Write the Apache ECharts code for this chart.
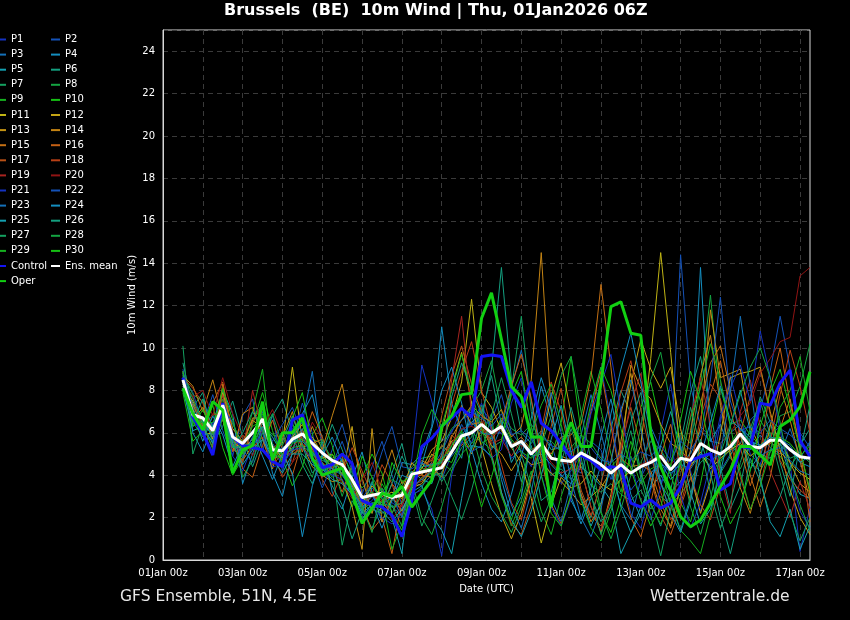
<!DOCTYPE html>
<html><head><meta charset="utf-8">
<script src="https://cdn.jsdelivr.net/npm/echarts@6/dist/echarts.min.js"></script>
<style>html,body{margin:0;padding:0;background:#000;}#c{width:850px;height:620px;}</style>
</head><body><div id="c"></div>
<script>
// 6-hourly values from 01Jan 12z to 17Jan 06z (64 points), m/s
const P1 = [8.2,7.0,6.5,6.0,7.8,5.5,4.9,5.8, 6.8,5.0,4.6,6.2,6.5,5.0,4.4,4.0, 4.3,3.6,2.5,2.8,3.4,2.7,2.4,4.8, 9.2,7.5,5.6,6.0,7.2,6.3,7.4,6.1, 6.0,4.8,5.2,4.4,5.9,4.1,3.6,4.2, 5.0,7.2,9.1,6.6,4.0,2.2,1.5,3.3, 6.1,8.3,5.4,4.2,2.3,3.9,6.5,8.7, 6.8,5.0,4.5,5.9,6.3,4.6,0.4,2.5];
const P2 = [8.6,7.9,6.4,7.8,6.1,4.9,6.8,7.6, 5.1,6.9,4.2,5.6,7.4,6.0,3.9,5.2, 6.4,4.7,3.1,4.4,5.6,4.0,2.6,3.9, 4.2,4.6,3.8,5.0,6.4,5.5,7.1,6.6, 7.8,6.0,5.4,5.8,4.6,5.5,3.9,4.4, 4.1,5.6,5.2,3.8,4.7,3.3,3.9,4.8, 3.6,4.9,14.4,8.2,6.3,5.8,4.2,5.0, 5.5,6.6,7.1,8.9,11.5,9.0,6.0,5.3];
const P3 = [8.0,7.2,6.0,6.5,6.8,6.0,5.0,5.6, 7.0,5.5,4.8,5.9,6.5,8.9,5.2,4.6, 4.0,3.5,2.2,3.4,3.0,2.5,2.1,3.7, 3.5,4.0,4.4,4.9,5.5,6.8,5.6,5.2, 6.3,8.1,9.9,7.5,5.2,2.9,1.8,3.6, 5.9,7.8,6.0,4.1,2.6,1.9,3.8,6.3, 5.2,4.0,4.6,5.0,6.1,5.6,5.5,6.0, 6.4,5.2,5.9,5.3,5.0,6.2,4.8,5.6];
const P4 = [8.9,6.0,5.1,6.4,8.0,6.9,3.6,5.0, 6.3,4.1,3.0,5.1,6.9,7.8,5.6,3.2, 2.4,3.9,5.1,3.2,1.8,2.9,4.6,4.5, 5.0,6.3,11.0,7.4,6.1,6.5,6.9,6.4, 3.8,2.1,3.0,5.7,8.2,6.6,4.9,2.8, 1.9,3.4,5.8,7.6,5.2,3.1,2.0,4.1, 4.6,3.8,4.3,5.1,13.8,5.6,6.4,5.1, 6.2,5.8,4.9,6.4,5.7,5.4,4.6,4.4];
const P5 = [8.4,7.4,6.2,6.3,7.1,5.7,5.0,6.1, 6.4,5.8,5.0,5.2,6.2,4.6,4.9,4.1, 4.8,3.2,2.6,3.6,2.9,2.0,0.3,4.2, 3.8,3.6,5.0,5.6,4.8,7.5,6.0,5.7, 6.6,4.6,5.5,4.9,5.0,4.5,4.0,3.6, 4.4,4.0,3.5,2.8,0.3,1.3,2.5,3.4, 4.0,3.2,3.7,4.5,5.0,4.4,4.7,5.2, 5.9,4.3,5.0,4.8,5.5,4.0,3.1,2.9];
const P6 = [9.3,7.2,7.9,5.5,6.3,7.5,5.8,4.4, 5.7,6.8,7.6,6.0,4.5,3.6,5.0,6.4, 5.2,3.9,2.3,1.5,2.6,4.1,5.5,3.5, 4.6,4.0,4.1,5.4,6.0,5.2,6.6,9.0, 13.8,8.5,6.0,5.5,6.1,5.2,5.3,4.8, 3.1,2.0,3.6,6.2,8.0,6.9,4.1,2.7, 1.6,3.3,5.5,7.9,9.6,7.0,4.4,2.4, 3.5,5.8,7.7,6.5,4.6,3.0,5.4,6.2];
const P7 = [10.1,5.0,6.4,5.9,8.0,5.4,4.6,6.6, 7.4,4.6,4.4,5.5,6.8,5.1,4.2,4.4, 0.7,2.8,2.0,2.4,2.2,2.6,1.6,3.0, 3.4,4.5,3.7,4.4,5.3,5.8,7.3,5.3, 5.6,8.0,11.5,7.0,4.8,4.0,4.3,3.8, 4.6,3.5,3.2,3.6,3.1,2.8,3.3,2.4, 3.0,2.6,3.1,3.8,4.6,5.0,4.1,4.9, 6.0,4.6,4.2,5.1,5.5,4.8,5.0,4.6];
const P8 = [8.8,7.8,7.5,5.4,7.6,6.4,5.5,5.2, 6.5,5.9,5.8,5.0,5.2,5.7,5.5,4.8, 5.0,4.1,3.4,3.9,3.2,3.8,3.5,4.4, 4.8,4.9,5.3,6.2,6.6,7.2,8.0,9.4, 7.0,6.2,5.9,6.4,5.7,5.6,5.1,5.3, 5.9,5.5,4.8,4.4,4.9,4.0,4.6,5.6, 5.2,4.4,6.0,5.5,8.3,12.5,7.4,4.8, 4.3,5.4,6.6,5.8,6.8,7.0,8.2,10.2];
const P9 = [8.0,6.5,5.8,6.8,7.2,5.9,5.3,7.0, 9.0,4.8,4.9,6.4,5.9,5.3,4.6,3.9, 4.4,3.3,2.8,2.2,3.6,2.8,3.7,3.3, 3.9,4.1,4.6,4.2,5.0,5.5,5.9,6.9, 3.1,1.6,2.8,4.2,2.3,1.2,3.0,4.4, 6.8,8.9,7.1,5.0,3.2,4.9,3.6,4.3, 4.5,2.6,1.4,0.9,0.3,2.1,4.6,5.5, 6.2,5.5,4.4,5.2,4.9,4.2,5.6,5.1];
const P10 = [7.9,5.6,6.1,7.3,5.3,4.0,4.8,6.4, 7.9,6.1,4.8,3.5,4.4,5.9,6.7,5.4, 3.7,2.5,3.9,5.0,4.1,2.2,1.4,3.4, 4.4,3.8,4.8,4.6,5.7,6.1,5.5,5.8, 6.7,5.7,5.1,4.8,5.3,4.8,6.5,9.6, 6.0,3.8,2.2,1.3,2.9,5.1,7.2,8.4, 6.3,4.0,2.7,1.8,3.6,6.0,8.1,6.4, 6.6,5.9,5.4,6.0,5.8,5.5,4.9,5.4];
const P11 = [8.3,7.1,5.9,6.0,7.0,5.6,5.2,5.7, 6.6,5.1,5.5,9.1,5.6,5.8,5.0,4.3, 4.7,3.6,2.7,3.5,3.0,3.2,2.9,4.0, 4.3,5.2,5.6,6.7,8.4,12.3,7.9,7.2, 6.1,5.3,4.6,2.9,0.8,2.6,3.9,3.4, 3.6,4.2,3.6,3.3,3.8,4.2,5.4,9.5, 14.5,9.8,4.9,4.4,5.1,4.3,4.8,5.2, 5.5,4.9,5.3,5.5,5.8,4.6,4.1,3.8];
const P12 = [8.5,6.6,7.2,5.7,7.9,6.2,5.6,6.6, 6.2,5.4,4.8,5.8,6.4,5.2,4.8,5.0, 4.0,6.3,3.0,2.4,2.8,3.0,2.3,3.4, 3.6,4.3,6.0,8.1,9.8,7.4,5.3,3.6, 2.1,1.0,2.2,3.9,5.4,7.7,9.3,6.9, 4.3,2.5,1.3,3.1,5.6,8.3,10.4,9.0, 8.1,9.1,6.2,4.0,2.2,3.7,5.9,8.6, 8.8,8.9,9.1,7.0,5.2,3.3,2.0,1.2];
const P13 = [8.1,7.5,6.4,6.2,6.6,5.3,4.7,5.4, 7.2,4.9,5.9,5.1,5.5,4.4,4.0,3.7, 3.8,2.5,0.5,6.2,1.8,2.9,3.2,4.6, 4.0,5.0,4.6,5.6,5.9,5.0,6.2,5.4, 5.0,4.2,5.0,4.5,4.6,4.1,3.7,3.2, 2.6,3.0,3.4,4.2,4.6,9.2,8.1,7.6, 6.4,5.5,5.2,4.6,6.3,11.8,8.6,8.8, 9.0,6.3,5.3,5.6,5.1,4.6,3.6,3.2];
const P14 = [8.7,8.2,7.0,8.5,6.6,5.1,6.9,7.2, 5.7,4.3,5.8,7.0,5.1,6.3,5.2,6.8, 8.3,5.6,3.9,2.2,3.8,5.2,3.6,4.1, 4.7,4.4,3.9,5.8,6.6,7.3,6.8,6.5, 7.1,5.8,6.3,8.5,14.5,7.0,4.9,4.7, 3.1,1.8,2.6,4.7,6.9,8.8,6.2,3.9, 2.4,1.6,3.5,6.1,8.7,10.6,7.3,5.0, 3.4,2.2,4.1,6.3,8.2,6.6,4.7,2.8];
const P15 = [8.2,7.3,6.3,5.3,8.3,5.8,5.4,6.7, 6.7,5.3,4.7,5.7,6.1,5.5,5.7,4.5, 4.5,3.5,2.9,3.2,2.4,3.6,3.0,3.7, 4.5,4.7,5.4,5.0,7.3,6.4,6.5,5.9, 6.4,5.4,5.8,5.2,5.5,5.0,5.8,5.9, 6.4,8.6,13.0,9.1,4.8,4.4,4.5,4.2, 2.8,1.5,2.9,5.2,7.4,9.3,10.1,8.0, 5.9,4.0,2.5,3.9,6.2,7.6,5.3,3.1];
const P16 = [8.9,7.0,5.9,7.4,8.4,6.0,4.3,3.9, 5.4,6.6,5.2,4.0,5.6,7.0,5.8,4.4, 3.2,4.5,2.6,1.4,2.0,0.3,2.8,3.9, 4.0,3.9,4.5,5.9,5.4,6.0,6.3,5.6, 6.5,8.2,9.7,7.6,4.8,2.6,1.7,3.0, 4.7,7.0,8.9,6.3,3.8,2.0,1.1,2.7, 4.9,6.4,4.4,2.8,5.5,7.8,9.4,7.1, 5.3,3.5,5.0,8.1,10.0,7.4,5.3,1.8];
const P17 = [8.5,7.0,6.2,6.1,7.0,5.1,5.9,5.3, 5.8,4.5,5.0,5.0,5.3,4.8,3.9,4.4, 4.9,3.4,2.6,3.0,2.7,2.2,3.1,3.6, 3.7,4.6,6.8,8.7,10.1,8.3,7.0,5.0, 3.2,1.7,1.2,2.6,4.4,6.3,8.1,5.5, 3.3,2.1,1.6,2.8,5.3,7.2,5.4,3.8, 2.1,1.2,2.5,3.9,2.6,1.9,3.5,4.3, 6.0,7.7,9.0,6.9,4.7,3.8,3.3,2.9];
const P18 = [8.6,8.1,7.4,6.0,7.8,5.4,4.6,6.5, 7.3,5.1,3.9,4.6,6.0,5.3,3.8,3.0, 4.1,5.3,4.2,3.1,4.5,3.6,2.1,3.3, 3.9,4.2,4.9,7.3,8.9,10.3,8.0,6.2, 4.5,2.7,1.9,3.8,6.1,8.4,7.0,4.8, 3.0,2.1,3.6,5.5,7.9,9.4,7.1,5.0, 3.2,1.9,2.6,4.4,6.7,8.3,7.6,5.5, 3.9,2.4,3.5,5.6,7.8,9.9,8.2,6.0];
const P19 = [8.3,7.7,6.1,6.9,6.8,5.5,5.0,8.0, 6.1,5.2,5.8,5.3,5.9,5.4,4.6,4.2, 4.4,3.7,2.7,3.1,2.8,3.0,2.5,3.8, 4.1,4.8,4.3,8.5,11.5,6.9,6.6,5.5, 5.7,4.9,5.6,5.0,5.3,4.6,4.1,4.3, 4.3,2.5,1.4,2.9,5.2,7.4,8.8,6.1, 3.6,2.3,4.5,6.8,8.6,6.4,4.0,2.2, 7.0,8.5,6.3,4.2,3.1,2.0,3.7,2.4];
const P20 = [8.4,7.7,8.0,6.8,8.6,6.9,5.8,4.9, 6.2,7.1,5.9,4.6,5.2,6.5,5.7,4.4, 3.6,2.9,3.8,4.6,3.3,1.9,2.6,3.6, 4.2,4.4,4.7,5.5,6.2,6.3,6.1,5.8, 6.2,5.5,5.4,5.1,5.4,4.8,4.6,4.5, 5.0,4.6,4.4,4.2,4.6,4.1,4.5,4.7, 5.0,4.5,5.0,4.8,5.6,5.2,5.5,6.0, 6.8,7.4,8.8,9.5,10.3,10.5,13.4,13.8];
const P21 = [8.0,6.7,6.0,6.4,7.2,4.9,4.2,5.4, 6.0,4.4,4.5,5.2,5.3,4.7,4.3,4.0, 3.8,3.0,2.1,2.5,2.0,1.7,2.2,3.1, 3.3,2.4,0.2,4.0,5.6,5.1,5.4,4.8, 5.2,7.4,8.6,6.3,4.0,2.5,1.6,2.9, 4.8,6.9,8.3,9.7,7.0,4.6,2.8,1.9, 3.4,5.6,3.1,1.5,2.7,4.6,6.8,8.1, 9.2,7.5,10.8,8.6,6.1,4.0,2.3,1.5];
const P22 = [9.0,7.0,6.1,5.6,7.2,6.5,5.2,4.6, 6.3,5.6,6.4,7.2,5.9,4.7,3.4,4.5, 5.6,4.2,2.9,3.6,5.1,6.3,4.4,4.3, 4.6,4.3,5.1,6.1,6.6,7.0,6.7,6.3, 6.9,5.9,6.1,5.7,5.9,5.4,5.2,5.1, 5.5,5.3,4.7,4.6,5.0,4.7,5.1,4.9, 5.4,4.7,5.6,5.2,5.9,8.5,12.4,7.5, 6.1,6.3,6.0,6.6,6.2,5.9,5.5,5.0];
const P23 = [8.7,6.3,6.6,5.8,7.0,5.6,4.8,5.8, 6.3,5.1,5.3,5.6,5.6,5.1,4.5,4.3, 4.0,3.3,2.5,3.0,2.6,3.0,2.0,3.5, 3.8,4.2,4.8,5.1,5.9,6.5,6.0,5.9, 4.1,2.6,1.5,3.2,5.8,7.9,6.0,3.8, 2.0,1.1,2.4,4.6,7.1,8.5,6.2,3.9, 4.6,4.1,4.5,4.3,5.0,4.7,5.0,7.9, 11.5,8.2,4.9,5.2,5.3,4.7,4.2,4.0];
const P24 = [8.8,6.9,5.6,6.8,5.9,4.4,5.5,6.1, 4.9,3.8,5.0,4.1,1.1,3.5,4.9,5.8, 4.6,3.4,1.9,2.7,1.5,2.8,4.0,3.8, 4.5,6.2,8.0,9.1,7.4,5.2,3.6,2.4, 1.8,3.1,4.9,6.7,8.6,7.1,4.9,3.0, 1.7,2.9,4.5,6.9,9.0,10.7,8.4,5.9, 3.7,2.2,1.3,2.8,4.9,6.5,8.2,6.6, 6.2,5.6,5.4,5.8,5.7,5.2,4.6,4.9];
const P25 = [8.1,6.1,6.3,5.5,6.9,5.5,4.5,5.2, 5.7,4.8,4.1,5.0,5.0,4.5,4.3,3.8, 3.6,3.1,2.2,2.6,2.3,1.8,2.4,3.2, 3.5,2.1,1.4,0.3,2.9,5.4,5.3,4.9, 3.2,1.9,1.1,2.3,4.0,5.7,7.3,5.1, 2.9,1.6,2.7,4.4,2.5,1.3,2.2,3.5, 5.4,7.0,5.3,3.2,1.7,2.4,4.1,6.3, 8.0,6.1,3.9,1.8,1.1,2.4,0.5,1.6];
const P26 = [8.5,6.5,7.6,6.2,7.0,5.3,6.0,7.0, 6.1,4.7,5.6,6.8,5.4,4.1,4.6,3.5, 2.6,1.0,2.3,3.7,2.5,3.6,4.9,4.0, 4.4,4.5,4.6,7.7,9.3,8.0,6.9,8.7, 6.4,5.6,3.7,5.4,2.8,3.2,5.0,7.2, 5.4,3.0,1.8,2.5,4.8,6.5,7.9,5.1, 3.6,2.8,1.4,3.0,5.7,4.1,2.0,0.3, 2.3,4.8,3.7,2.1,3.0,4.4,5.1,7.3];
const P27 = [8.3,6.5,6.5,5.9,6.7,5.3,5.4,5.5, 6.3,5.0,4.8,5.3,5.4,5.0,4.7,4.5, 4.1,3.3,2.4,2.7,2.7,2.5,2.7,3.4, 1.6,2.8,4.1,3.0,1.9,3.3,5.1,6.8, 8.6,6.9,5.0,3.4,1.8,2.9,4.6,6.2, 4.8,3.1,1.2,2.6,4.4,6.1,3.9,2.1, 0.2,2.4,4.9,7.2,5.3,3.2,1.5,2.7, 4.6,6.2,7.5,5.9,4.1,2.2,0.9,2.0];
const P28 = [8.6,7.6,6.5,5.2,6.7,5.8,3.9,4.7, 6.0,6.9,5.4,6.5,4.8,3.9,5.7,4.6, 3.0,4.4,2.5,1.3,3.4,2.2,3.3,3.7, 2.0,1.2,2.5,4.2,5.8,6.1,4.3,3.0, 2.2,1.3,2.5,4.0,5.4,6.8,8.7,9.6, 7.0,4.7,2.3,1.0,2.4,4.0,6.3,8.5, 9.8,7.3,4.7,2.5,1.2,2.9,5.0,6.4, 7.8,9.1,10.0,8.6,6.5,4.0,2.6,1.4];
const P29 = [8.2,7.0,6.4,6.5,7.0,5.8,5.5,6.3, 6.6,5.3,5.0,5.5,5.7,5.1,4.8,4.6, 4.3,3.6,2.8,3.2,2.9,0.5,1.7,3.6, 5.9,7.1,6.3,8.0,9.7,7.9,6.2,4.8, 3.0,1.9,3.4,5.9,7.3,8.3,6.4,4.5, 2.8,1.5,0.9,2.3,3.9,5.6,4.2,2.6, 1.7,2.9,4.6,6.7,8.1,10.2,8.5,6.3, 4.1,2.4,3.5,5.1,7.2,8.0,9.6,7.0];
const P30 = [8.9,6.3,7.1,6.0,8.1,6.6,5.0,5.5, 6.9,5.4,4.6,6.7,7.9,5.4,4.2,5.0, 4.3,3.1,4.9,3.9,2.4,4.6,3.7,3.9, 4.2,4.4,4.7,5.4,6.1,4.3,2.5,3.9, 5.6,7.8,8.9,6.3,4.0,2.2,1.6,3.1, 5.2,7.4,9.1,8.0,6.2,4.3,2.8,1.6, 2.5,4.5,6.6,8.9,7.5,5.1,3.0,1.7, 2.6,4.2,6.3,7.9,9.0,7.1,5.2,3.3];
const control = [8.6,6.75,6.0,4.95,7.4,5.8,5.4,5.3, 5.2,4.65,4.4,6.6,6.85,5.5,4.35,4.5, 5.0,4.55,2.8,2.6,2.5,2.1,1.1,2.8, 5.35,5.75,6.3,6.7,7.15,6.75,9.6,9.67, 9.6,8.0,7.2,8.4,6.45,6.1,5.5,4.8, 4.95,4.7,4.25,4.4,4.33,2.68,2.5,2.83, 2.45,2.68,3.46,4.7,4.87,5.03,3.3,3.6, 5.35,5.28,7.4,7.3,8.35,8.96,5.65,4.87];
const ensMean = [8.5,6.85,6.7,6.1,7.3,5.8,5.5,6.0, 6.65,5.2,5.15,5.7,5.95,5.5,5.05,4.7, 4.5,3.8,2.95,3.05,3.15,2.95,3.05,4.05, 4.15,4.25,4.35,5.1,5.85,6.0,6.4,6.0, 6.3,5.35,5.6,5.0,5.5,4.8,4.7,4.65, 5.05,4.8,4.5,4.1,4.5,4.1,4.4,4.6, 4.9,4.25,4.8,4.7,5.5,5.2,5.0,5.35, 5.95,5.35,5.3,5.65,5.65,5.2,4.87,4.8];
const oper = [8.1,6.9,6.13,7.47,7.07,4.1,5.2,5.4, 7.47,4.7,6.0,6.0,6.7,4.8,4.0,4.17, 4.33,3.15,1.73,2.45,3.15,3.0,3.46,2.5, 3.15,3.77,6.3,6.8,7.8,7.87,11.4,12.6, 10.4,8.18,7.7,5.8,5.8,2.5,5.35,6.5, 5.35,5.35,8.35,11.95,12.18,10.7,10.6,6.0, 4.4,3.3,2.04,1.57,1.89,2.68,3.46,4.25, 5.35,5.35,4.95,4.48,6.3,6.6,7.23,8.88];

const members = [P1,P2,P3,P4,P5,P6,P7,P8,P9,P10,P11,P12,P13,P14,P15,P16,P17,P18,P19,P20,P21,P22,P23,P24,P25,P26,P27,P28,P29,P30];
const memberColors = ['#1432c0','#1452b8','#1470b8','#148ec0','#14a0b0','#14a080','#14a060','#14a442','#16b020','#16c014',
  '#c0b414','#c4a414','#c49414','#c48414','#c47014','#c46014','#b85016','#b84016','#a82420','#901414',
  '#1432c0','#1452b8','#1470b8','#148ec0','#14a0b0','#14a080','#14a060','#14a442','#16b020','#16c014'];
const yTicks = [0,2,4,6,8,10,12,14,16,18,20,22,24];

// time categories: 01Jan 00z .. 17Jan 06z every 6 h
const categories = [];
for (let k = 0; k <= 65; k++) {
  const h = k * 6, d = 1 + Math.floor(h / 24), hh = h % 24;
  categories.push((d < 10 ? '0' : '') + d + 'Jan ' + (hh < 10 ? '0' : '') + hh + 'z');
}
const pad = ['-','-'];
const FONT = 'DejaVu Sans';

const series = members.map((d, k) => ({
  name: 'P' + (k + 1), type: 'line', data: pad.concat(d), symbol: 'none',
  color: memberColors[k], lineStyle: { width: 1, color: memberColors[k] }, z: 2
}));
series.push({ name: 'Control', type: 'line', data: pad.concat(control), symbol: 'none', color: '#1414f5', lineStyle: { width: 3, color: '#1414f5' }, z: 3 });
series.push({ name: 'Ens. mean', type: 'line', data: pad.concat(ensMean), symbol: 'none', color: '#ffffff', lineStyle: { width: 3, color: '#ffffff' }, z: 4 });
series.push({ name: 'Oper', type: 'line', data: pad.concat(oper), symbol: 'none', color: '#12d012', lineStyle: { width: 3, color: '#12d012' }, z: 5 });

const leftNames = [], rightNames = [];
for (let k = 1; k <= 30; k++) (k % 2 ? leftNames : rightNames).push('P' + k);
leftNames.push('Control', 'Oper');
rightNames.push('Ens. mean');

const legendBase = {
  orient: 'vertical', top: 32, padding: 0, itemGap: 0.1, itemWidth: 9, itemHeight: 2,
  icon: 'rect', selectedMode: false,
  textStyle: { color: '#ffffff', fontSize: 10, lineHeight: 15, fontFamily: FONT }
};

const chart = echarts.init(document.getElementById('c'), null, { renderer: 'canvas' });
chart.setOption({
  backgroundColor: '#000000',
  animation: false,
  title: [
    { text: 'Brussels  (BE)  10m Wind | Thu, 01Jan2026 06Z', left: 224, top: 3, padding: 0,
      textStyle: { color: '#ffffff', fontSize: 16, fontWeight: 'bold', fontFamily: FONT } },
    { text: 'GFS Ensemble, 51N, 4.5E', left: 120, top: 589, padding: 0,
      textStyle: { color: '#e8e8e8', fontSize: 15.5, fontWeight: 'normal', fontFamily: FONT } },
    { text: 'Wetterzentrale.de', left: 650, top: 589, padding: 0,
      textStyle: { color: '#e8e8e8', fontSize: 15.5, fontWeight: 'normal', fontFamily: FONT } }
  ],
  legend: [
    Object.assign({}, legendBase, { data: leftNames, left: -3 }),
    Object.assign({}, legendBase, { data: rightNames, left: 51 })
  ],
  grid: { left: 163, right: 40, top: 30, bottom: 60, show: true, borderColor: '#d8d8d8', borderWidth: 1 },
  xAxis: {
    type: 'category', data: categories, boundaryGap: false,
    name: 'Date (UTC)', nameLocation: 'middle', nameGap: 24, nameMoveOverlap: false,
    nameTextStyle: { color: '#ffffff', fontSize: 10, fontFamily: FONT },
    axisLine: { lineStyle: { color: '#d8d8d8' } },
    axisTick: { show: false },
    axisLabel: { color: '#ffffff', fontSize: 10, fontFamily: FONT, margin: 8,
      interval: function (i) { return i % 8 === 0; } },
    splitLine: { show: true, interval: function (i) { return i % 4 === 0; },
      lineStyle: { color: '#3a3a3a', type: [5, 4], width: 1 } }
  },
  yAxis: {
    type: 'value', min: 0, max: 25, interval: 2,
    name: '10m Wind (m/s)', nameLocation: 'middle', nameGap: 26, nameMoveOverlap: false,
    nameTextStyle: { color: '#ffffff', fontSize: 10, fontFamily: FONT },
    axisLine: { show: true, lineStyle: { color: '#d8d8d8' } },
    axisTick: { show: false },
    axisLabel: { color: '#ffffff', fontSize: 10, fontFamily: FONT, margin: 8,
      formatter: function (v) { return yTicks.indexOf(v) >= 0 ? String(v) : ''; } },
    splitLine: { show: true, lineStyle: { color: '#3a3a3a', type: [5, 4], width: 1 } }
  },
  series: series
});
</script>
</body></html>
